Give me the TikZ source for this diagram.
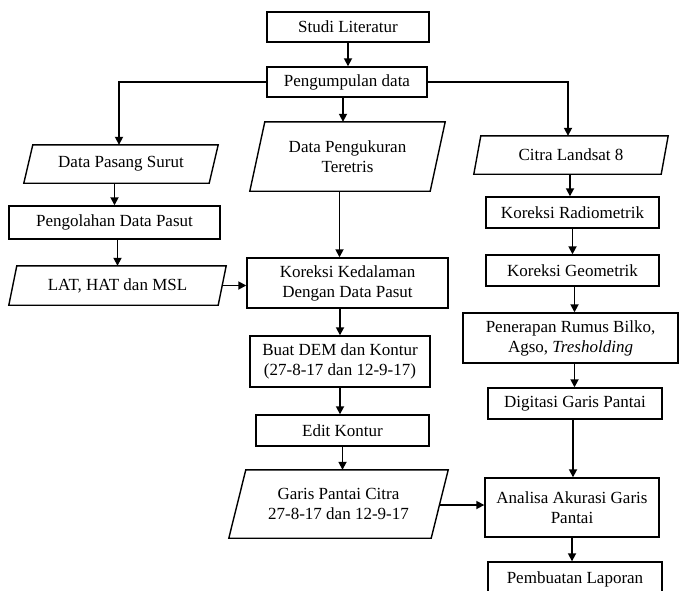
\documentclass[tikz,border=0pt]{standalone}
\usepackage{fontspec}
\setmainfont{Liberation Serif}
\usetikzlibrary{arrows.meta,calc}
\newcommand{\parabox}[2]{\draw[frame] ($(#1.north west)+(#2,0)$) -- (#1.north east) -- ($(#1.south east)+(-#2,0)$) -- (#1.south west) -- cycle;}
\begin{document}
\begin{tikzpicture}[x=1pt,y=-1pt,
  frame/.style={draw=black,line width=1.4pt},
  base/.style={rectangle,inner sep=0pt,align=center,font=\fontsize{17}{20}\selectfont},
  rbox/.style={base,frame},
  pbox/.style={base},
  arr/.style={line width=1.7pt,-{Triangle[length=8pt,width=8pt]}}]
\useasboundingbox (0,0) rectangle (680,590);
\clip (0,0) rectangle (680,590);
\fill[white] (0,0) rectangle (680,590);
% nodes
\node[rbox,minimum width=162pt,minimum height=30pt] (stud) at (348,27) {Studi Literatur};
\node[rbox,minimum width=160pt,minimum height=30pt] (peng) at (347,82) {Pengumpulan data};
\node[pbox,minimum width=194pt,minimum height=38pt] (dps) at (121,164) {Data Pasang Surut};
\node[pbox,minimum width=195pt,minimum height=69pt] (dpt) at (347.5,156.5) {Data Pengukuran\\Teretris};
\node[pbox,minimum width=194pt,minimum height=38pt] (cls) at (571,155) {Citra Landsat 8};
\node[rbox,minimum width=211pt,minimum height=33pt] (pdp) at (114.5,222.5) {Pengolahan Data Pasut};
\node[pbox,minimum width=217pt,minimum height=39pt] (lat) at (117.5,285.5) {LAT, HAT dan MSL};
\node[rbox,minimum width=201pt,minimum height=50pt] (kk) at (347.5,283) {Koreksi Kedalaman\\Dengan Data Pasut};
\node[rbox,minimum width=173pt,minimum height=31pt] (kr) at (572.5,212.5) {Koreksi Radiometrik};
\node[rbox,minimum width=173pt,minimum height=31pt] (kg) at (572.5,270.5) {Koreksi Geometrik};
\node[rbox,minimum width=215pt,minimum height=50pt] (pr) at (570.5,338) {Penerapan Rumus Bilko,\\Agso, \textit{Tresholding}};
\node[rbox,minimum width=180pt,minimum height=51pt] (dem) at (340,361.5) {Buat DEM dan Kontur\\(27-8-17 dan 12-9-17)};
\node[rbox,minimum width=173pt,minimum height=31pt] (ek) at (342.5,430.5) {Edit Kontur};
\node[rbox,minimum width=174pt,minimum height=31pt] (dg) at (575,403.5) {Digitasi Garis Pantai};
\node[pbox,minimum width=219pt,minimum height=68pt] (gpc) at (338.5,504) {Garis Pantai Citra\\27-8-17 dan 12-9-17};
\node[rbox,minimum width=174pt,minimum height=59pt] (aa) at (572,507.5) {Analisa Akurasi Garis\\Pantai};
\node[rbox,minimum width=174pt,minimum height=34pt] (pl) at (575,579) {Pembuatan Laporan};
% parallelograms
\parabox{dps}{9}
\parabox{dpt}{15}
\parabox{cls}{7}
\parabox{lat}{8}
\parabox{gpc}{17}
% helper coordinates
\path (peng.south) ++(-4,0) coordinate (c1);
\path (pdp.south) ++(3,0) coordinate (c2);
\path (dpt.south) ++(-8,0) coordinate (c3);
\path (cls.south) ++(-1,0) coordinate (c4);
\path (kg.south) ++(2,0) coordinate (c5);
\path (pr.south) ++(4,0) coordinate (c6);
\path (dg.south) ++(-2,0) coordinate (c7);
\path (gpc.east) ++(-9,1) coordinate (c8);
\path (lat.east) ++(-4,0) coordinate (c9);
\path (dps.north) ++(-2,0) coordinate (c10);
\path (cls.north) ++(-3,0) coordinate (c11);
% connectors
\draw[arr] (stud.south) -- (stud.south |- peng.north);
\draw[arr] (peng.west) -| (c10);
\draw[arr] (c1) -- (c1 |- dpt.north);
\draw[arr] (peng.east) -| (c11);
\draw[arr] (pdp.north |- dps.south) -- (pdp.north);
\draw[arr] (c2) -- (c2 |- lat.north);
\draw[arr] (c9) -- (c9 -| kk.west);
\draw[arr] (c3) -- (c3 |- kk.north);
\draw[arr] (dem.north |- kk.south) -- (dem.north);
\draw[arr] (dem.south) -- (dem.south |- ek.north);
\draw[arr] (ek.south) -- (ek.south |- gpc.north);
\draw[arr] (c8) -- (c8 -| aa.west);
\draw[arr] (c4) -- (c4 |- kr.north);
\draw[arr] (kr.south) -- (kr.south |- kg.north);
\draw[arr] (c5) -- (c5 |- pr.north);
\draw[arr] (c6) -- (c6 |- dg.north);
\draw[arr] (c7) -- (c7 |- aa.north);
\draw[arr] (aa.south) -- (aa.south |- pl.north);
\end{tikzpicture}
\end{document}
